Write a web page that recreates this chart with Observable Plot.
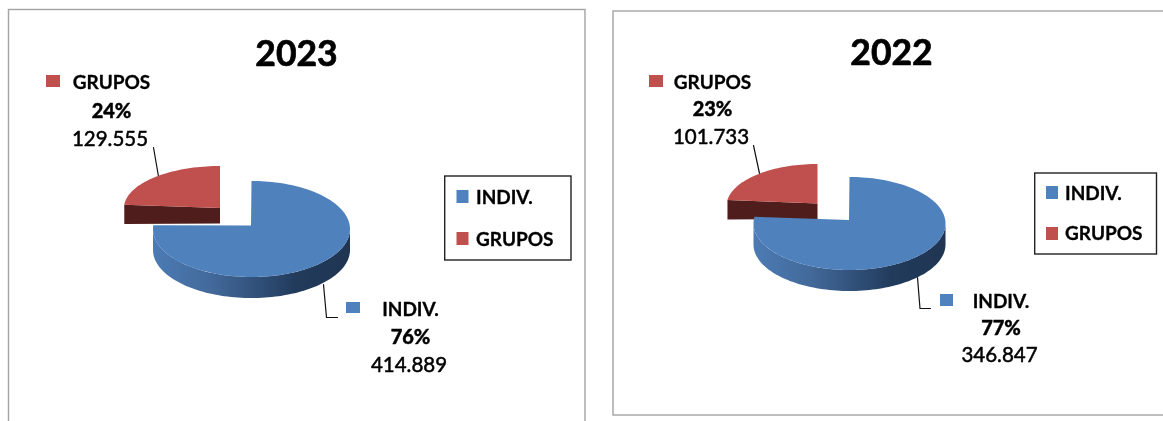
<!DOCTYPE html>
<html>
<head>
<meta charset="utf-8">
<script src="https://cdn.jsdelivr.net/npm/d3@7"></script>
<script src="https://cdn.jsdelivr.net/npm/@observablehq/plot@0.6"></script>
<style>
  html, body { margin: 0; padding: 0; background: #fff; overflow: hidden; }
  svg { display: block; filter: blur(0.45px); }
</style>
</head>
<body>
<div id="chart"></div>
<script>
// ---- data ----
const categories = ["INDIV.", "GRUPOS"];
const years = ["2023", "2022"];
const values2023 = [414889, 129555];
const values2022 = [346847, 101733];
const valueLabels2023 = ["414.889", "129.555"];
const valueLabels2022 = ["346.847", "101.733"];

// ---- colours ----
const BLUE = "#4F81BD", RED = "#C0504D", MAROON = "#4F1D1B";
const FONT = "Lato, Carlito, sans-serif";

// ---- panel layout (pixels of the 1163x421 canvas) ----
const layouts = [
  { frame: [8.5, 9.5, 585, 440], title: [296, 54],
    blue: {cx: 251, cy: 228.5, rx: 98.5, ry: 48, depth: 21},
    red: {cx: 219.5, cy: 207.5, rx: 96, ry: 42, depth: 15.5, cornerDy: 0},
    legend: {box: [444.7, 176, 571, 260], sx: 456.5, sw: 12, sy: [190, 232], sh: 13, tx: 475.5, ty: [197, 239]},
    redLabel: {swatch: [46, 75, 60, 87], cx: 111, ty: [82, 111, 139], leader: [[153, 147], [158, 176]]},
    blueLabel: {swatch: [346, 302, 360, 313], cx: 410, ty: [309, 337, 365], leader: [[323, 284], [326, 317], [337, 317]]} },
  { frame: [613, 11, 1180, 415], title: [891, 53],
    blue: {cx: 849, cy: 223, rx: 96, ry: 46.5, depth: 21},
    red: {cx: 817, cy: 205.5, rx: 91, ry: 42, depth: 15.5, cornerDy: -2.5},
    legend: {box: [1034.7, 173, 1156.5, 254], sx: 1046, sw: 12, sy: [186, 227], sh: 13, tx: 1064.5, ty: [193, 233]},
    redLabel: {swatch: [649, 75, 663, 87], cx: 712, ty: [82, 109, 137], leader: [[753, 145], [759, 173]]},
    blueLabel: {swatch: [940, 294, 953, 306], cx: 1000.5, ty: [301, 328, 355], leader: [[917, 277], [919.5, 308], [930, 308]]} }
];

// Point on a flattened pie rim; angle in degrees clockwise from 12 o'clock.
const rim = (p, deg, dy = 0) => {
  const t = deg * Math.PI / 180;
  return {x: p.cx + p.rx * Math.sin(t), y: p.cy - p.ry * Math.cos(t) + dy};
};
const arc = (p, a0, a1, dy = 0) => {
  const n = Math.max(2, Math.ceil(Math.abs(a1 - a0) / 2));
  return d3.range(n + 1).map(i => rim(p, a0 + (a1 - a0) * i / n, dy));
};

const line = (pts, options) => Plot.line(pts, {x: "x", y: "y", ...options});
const pt = ([x, y]) => ({x, y});

function panelMarks(i, values, valueLabels, year) {
  const L = layouts[i];
  const total = d3.sum(values);
  const split = 360 * values[0] / total;           // end of the INDIV. slice
  const pct = values.map(v => Math.round(100 * v / total) + "%");
  const gradId = "wall" + i;

  const B = L.blue, R = L.red;
  const blueCorner = {x: B.cx - 0.5, y: B.cy - 3.5};
  const redCorner = {x: R.cx, y: R.cy + R.cornerDy};
  const blueTop = [blueCorner, ...arc(B, 0, split)];
  const blueWall = [...arc(B, 90, 270), ...arc(B, 270, 90, B.depth)];
  const redTop = [redCorner, ...arc(R, split, 360)];
  const redEdge = rim(R, split);
  const redFace = [redEdge, redCorner,
    {x: redCorner.x, y: redCorner.y + R.depth},
    {x: redEdge.x, y: redCorner.y + R.depth + 0.5}];

  const textBase = {fontFamily: FONT, fill: "#000", textAnchor: "middle", lineAnchor: "middle"};
  const legendRows = categories.map((c, k) => ({c, k}));

  return [
    // panel frame
    Plot.rect([L.frame], {x1: d => d[0], y1: d => d[1], x2: d => d[2], y2: d => d[3],
      fill: "#fff", stroke: "#A3A3A3", strokeWidth: 1.4}),
    // gradient for the side wall
    () => {
      const defs = d3.create("svg:defs");
      const g = defs.append("linearGradient").attr("id", gradId);
      [[0, "#4C7BB4"], [0.3, "#42699A"], [0.55, "#2F4E76"], [0.72, "#223B5C"], [1, "#1F3552"]]
        .forEach(([o, c]) => g.append("stop").attr("offset", o).attr("stop-color", c));
      return defs.node();
    },
    // leaders
    line(L.redLabel.leader.map(pt), {stroke: "#111", strokeWidth: 1.2}),
    line(L.blueLabel.leader.map(pt), {stroke: "#111", strokeWidth: 1.2}),
    // exploded GRUPOS slice
    line(redFace, {fill: MAROON, stroke: "none"}),
    line(redTop, {fill: RED, stroke: "none"}),
    // INDIV. slice
    line(blueWall, {fill: `url(#${gradId})`, stroke: "none"}),
    line(blueTop, {fill: BLUE, stroke: "none"}),
    // title
    Plot.text([year], {...textBase, x: () => L.title[0], y: () => L.title[1], text: d => d,
      fontSize: 35.5, fontWeight: 700, stroke: "#000", strokeWidth: 0.7}),
    // data label swatches
    Plot.rect([L.redLabel.swatch], {x1: d => d[0], y1: d => d[1], x2: d => d[2], y2: d => d[3], fill: RED}),
    Plot.rect([L.blueLabel.swatch], {x1: d => d[0], y1: d => d[1], x2: d => d[2], y2: d => d[3], fill: BLUE}),
    // data labels
    ...[[1, L.redLabel], [0, L.blueLabel]].flatMap(([k, lab]) => [
      Plot.text([categories[k]], {...textBase, x: () => lab.cx, y: () => lab.ty[0], text: d => d,
        fontSize: 19, fontWeight: 700, stroke: "#000", strokeWidth: 0.3}),
      Plot.text([pct[k]], {...textBase, x: () => lab.cx, y: () => lab.ty[1], text: d => d,
        fontSize: 20, fontWeight: 900, stroke: "#000", strokeWidth: 0.4}),
      Plot.text([valueLabels[k]], {...textBase, x: () => lab.cx - 1.5, y: () => lab.ty[2], text: d => d,
        fontSize: 20.5, fontWeight: 400, stroke: "#000", strokeWidth: 0.5})
    ]),
    // legend
    Plot.rect([L.legend.box], {x1: d => d[0], y1: d => d[1], x2: d => d[2], y2: d => d[3],
      fill: "#fff", stroke: "#222", strokeWidth: 1.4}),
    Plot.rect(legendRows, {x1: () => L.legend.sx, x2: () => L.legend.sx + L.legend.sw,
      y1: d => L.legend.sy[d.k], y2: d => L.legend.sy[d.k] + L.legend.sh,
      fill: d => d.k === 0 ? BLUE : RED}),
    Plot.text(legendRows, {fontFamily: FONT, fill: "#000", textAnchor: "start", lineAnchor: "middle",
      x: () => L.legend.tx, y: d => L.legend.ty[d.k], text: "c", fontSize: 19, fontWeight: 700,
      stroke: "#000", strokeWidth: 0.3})
  ];
}

const chart = Plot.plot({
  width: 1163, height: 421,
  margin: 0,
  x: {domain: [0, 1163], range: [0, 1163], axis: null},
  y: {domain: [0, 421], range: [0, 421], axis: null},
  style: {background: "#fff", fontFamily: FONT},
  marks: [
    ...panelMarks(0, values2023, valueLabels2023, years[0]),
    ...panelMarks(1, values2022, valueLabels2022, years[1])
  ]
});
document.getElementById("chart").append(chart);
</script>
</body>
</html>
